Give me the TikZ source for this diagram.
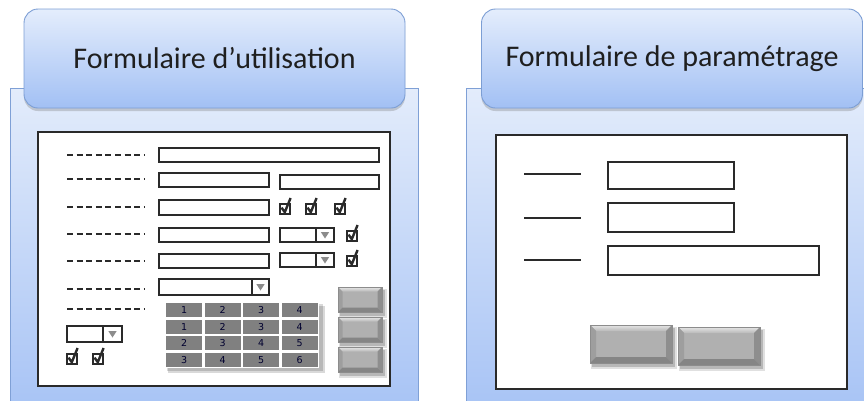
\documentclass[tikz,border=0pt]{standalone}
\usepackage{fontspec}
\setmainfont{Carlito}
\newfontfamily\numfont{DejaVu Sans}
\usetikzlibrary{shadows}
\definecolor{panTop}{HTML}{E3ECFB}
\definecolor{panBot}{HTML}{A7C3F5}
\definecolor{panLine}{HTML}{7FA0D6}
\definecolor{hdTop}{HTML}{E4EDFC}
\definecolor{hdBot}{HTML}{A2C0F4}
\definecolor{hdLine}{HTML}{7C9ED4}
\definecolor{ink}{HTML}{2A2A2A}
\definecolor{cellgray}{HTML}{808080}
\definecolor{trigray}{HTML}{8C8C8C}
\definecolor{btnMid}{HTML}{B0B0B0}
\definecolor{btnTop}{HTML}{E6E6E6}
\definecolor{btnL}{HTML}{9E9E9E}
\definecolor{btnR}{HTML}{8E8E8E}
\definecolor{btnB}{HTML}{858585}
\tikzset{
  panel/.style={top color=panTop, bottom color=panBot, draw=panLine, line width=0.9pt},
  hdr/.style={top color=hdTop, bottom color=hdBot, draw=hdLine, line width=0.9pt,
    rounded corners=14pt, minimum width=381pt, minimum height=99pt,
    font=\fontsize{30}{32}\selectfont, text=black!88,
    drop shadow={shadow xshift=0pt, shadow yshift=-3pt, opacity=0.35}},
  formbox/.style={fill=white, draw=ink, line width=1.1pt},
  fld/.style={fill=white, draw=ink, line width=1.1pt},
  dashl/.style={draw=ink, line width=1.1pt, dash pattern=on 6pt off 3.6pt},
  solidl/.style={draw=ink, line width=1.3pt},
  chkbox/.style={draw=ink, line width=1.4pt, fill=white},
  chkmark/.style={draw=ink, line width=2.4pt, line join=miter, line cap=butt},
  cell/.style={fill=cellgray},
  num/.style={font=\numfont\fontsize{9.5}{10}\selectfont, text=black!80!blue!90!black, inner sep=0pt},
}
\newcommand{\chk}[2]{%
  \draw[chkbox] (#1,#2) rectangle (#1+10,#2+10);
  \draw[chkmark] (#1+1.5,#2+3.6) -- (#1+4.8,#2+8.2) -- (#1+10.6,#2-6);}
\newcommand{\combo}[5]{%
  \draw[fld] (#1,#2) rectangle (#3,#4);
  \draw[ink, line width=1.1pt] (#5,#2) -- (#5,#4);
  \fill[trigray] (#5/2+#3/2-4.2,#2/2+#4/2-3) -- (#5/2+#3/2+4.2,#2/2+#4/2-3) -- (#5/2+#3/2,#2/2+#4/2+3.5) -- cycle;}
\newcommand{\bevbtn}[5]{%
  \fill[black, opacity=0.18] (#1+2,#2+3) rectangle (#3+3,#4+4);
  \fill[black, opacity=0.12] (#1+1,#2+2) rectangle (#3+4.5,#4+5.5);
  \fill[btnMid] (#1,#2) rectangle (#3,#4);
  \shade[top color=btnTop, bottom color=btnMid!90!white] (#1,#2) -- (#3,#2) -- (#3-#5,#2+#5) -- (#1+#5,#2+#5) -- cycle;
  \fill[btnL] (#1,#2) -- (#1+#5,#2+#5) -- (#1+#5,#4-#5) -- (#1,#4) -- cycle;
  \fill[btnR] (#3,#2) -- (#3-#5,#2+#5) -- (#3-#5,#4-#5) -- (#3,#4) -- cycle;
  \fill[btnB] (#1,#4) -- (#1+#5,#4-#5) -- (#3-#5,#4-#5) -- (#3,#4) -- cycle;
  \draw[black!45, line width=0.5pt] (#1,#2) rectangle (#3,#4);}
\begin{document}
\begin{tikzpicture}[x=1pt, y=-1pt]
\useasboundingbox (0,0) rectangle (864,400);
\begin{scope}
\clip (0,0) rectangle (864,400);
% back panels
\shade[panel] (10,88) rectangle (418,412);
\shade[panel] (466,88) rectangle (880,412);
\end{scope}
% headers
\node[hdr] (h1) at (214.5,58.5) {Formulaire d’utilisation};
\node[hdr] (h2) at (672,58.5) {Formulaire de paramétrage};

% ---------------- left form ----------------
\draw[formbox] (38,132) rectangle (390,386);
\foreach \yy in {155,179,207,234,261,289,309}
  \draw[dashl] (67,\yy) -- (144,\yy);
\draw[fld] (159,148) rectangle (379,162);
\draw[fld] (159,173) rectangle (269,187);
\draw[fld] (280,175) rectangle (379,189);
\draw[fld] (159,200) rectangle (269,215);
\chk{280}{204}\chk{306}{204}\chk{335}{204}
\draw[fld] (159,228) rectangle (269,242);
\combo{280}{228}{334}{242}{316}
\chk{347}{231}
\draw[fld] (159,254) rectangle (269,268);
\combo{280}{253}{334}{267}{316}
\chk{347}{256}
\combo{159}{279}{269}{295}{252}
\combo{67}{326}{122}{342}{103}
\chk{67}{354}\chk{93}{354}

% table
\fill[black, opacity=0.15] (168,306) rectangle (325,373);
\fill[black, opacity=0.15] (167,304) rectangle (323,371);
\fill[white] (165,302) rectangle (319,368);
\foreach \r/\va/\vb/\vc/\vd in {0/1/2/3/4, 1/1/2/3/4, 2/2/3/4/5, 3/3/4/5/6} {
  \foreach \c/\v in {0/\va, 1/\vb, 2/\vc, 3/\vd} {
    \fill[cell] (166.3+\c*38.5,303.3+\r*16.5) rectangle (165+\c*38.5+37.3,302+\r*16.5+15.3);
    \node[num] (t\r\c) at (165+\c*38.5+19.2,302+\r*16.5+8.3) {\v};
  }
}

% right buttons of left form
\bevbtn{338}{287}{382}{312}{4.5}
\bevbtn{338}{317}{382}{342}{4.5}
\bevbtn{338}{347}{382}{372}{4.5}

% ---------------- right form ----------------
\draw[formbox] (496,135) rectangle (847,389);
\draw[solidl] (524,174) -- (581,174);
\draw[solidl] (524,218) -- (581,218);
\draw[solidl] (524,260) -- (581,260);
\draw[fld] (608,162) rectangle (734,189);
\draw[fld] (608,203) rectangle (734,232);
\draw[fld] (608,246) rectangle (819,275);
\bevbtn{590}{325}{672}{363}{6}
\bevbtn{678}{327}{760}{365}{6}
\end{tikzpicture}
\end{document}
